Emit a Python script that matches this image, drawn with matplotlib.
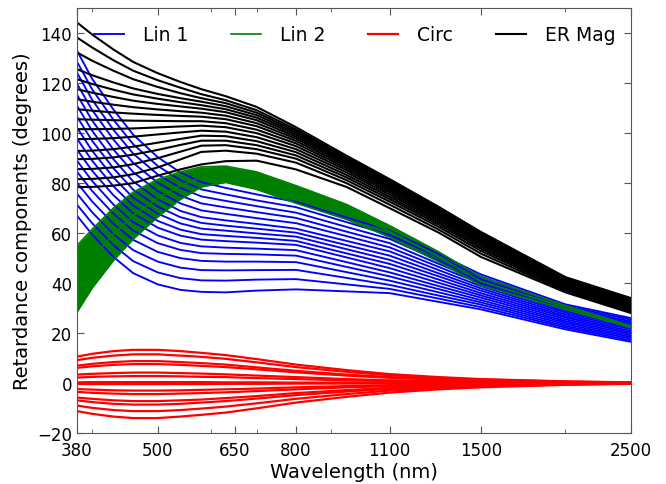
import matplotlib
matplotlib.use('Agg')
import matplotlib.pyplot as plt
from matplotlib.ticker import NullFormatter

WL = [380, 400, 430, 460, 500, 540, 580, 630, 700, 800, 950, 1100, 1300, 1500, 2000, 2500]

# linear retardance component 1 (degrees)
LIN1 = [
    [133.0, 121.8, 109.5, 99.4, 90.4, 84.3, 80.4, 78.1, 75.5, 72.5, 66.3, 61.0, 51.6, 43.5, 31.5, 26.0],
    [128.6, 117.6, 105.4, 95.6, 86.9, 81.2, 77.5, 75.5, 73.1, 70.4, 64.4, 59.3, 50.3, 42.6, 30.8, 25.4],
    [124.2, 113.4, 101.4, 91.8, 83.5, 78.1, 74.7, 72.9, 70.8, 68.2, 62.5, 57.7, 49.0, 41.6, 30.2, 24.7],
    [119.8, 109.3, 97.5, 88.1, 80.2, 75.0, 71.9, 70.3, 68.4, 66.1, 60.6, 56.0, 47.7, 40.7, 29.5, 24.1],
    [115.4, 105.1, 93.5, 84.4, 76.8, 71.9, 69.1, 67.7, 66.0, 64.0, 58.8, 54.3, 46.5, 39.8, 28.8, 23.5],
    [111.0, 101.0, 89.6, 80.7, 73.5, 68.9, 66.4, 65.1, 63.7, 61.8, 56.9, 52.7, 45.2, 38.8, 28.2, 22.8],
    [106.6, 97.0, 86.0, 77.4, 70.6, 66.4, 64.1, 63.0, 61.8, 60.2, 55.2, 51.0, 43.9, 37.9, 27.5, 22.2],
    [102.2, 93.0, 82.3, 74.2, 67.8, 63.9, 61.8, 61.0, 59.9, 58.6, 53.6, 49.3, 42.7, 37.0, 26.8, 21.6],
    [97.8, 89.0, 78.8, 71.0, 64.9, 61.4, 59.6, 58.9, 58.1, 56.9, 51.9, 47.7, 41.4, 36.0, 26.2, 20.9],
    [93.4, 85.0, 75.2, 67.9, 62.2, 59.0, 57.4, 56.8, 56.2, 55.3, 50.3, 46.0, 40.1, 35.1, 25.5, 20.3],
    [89.0, 80.9, 71.5, 64.4, 59.1, 56.1, 54.7, 54.2, 53.8, 53.2, 48.4, 44.3, 38.8, 34.2, 24.8, 19.7],
    [84.6, 76.9, 67.8, 61.0, 56.0, 53.3, 52.0, 51.7, 51.5, 51.0, 46.5, 42.7, 37.6, 33.2, 24.2, 19.0],
    [80.2, 72.7, 63.8, 57.3, 52.5, 50.0, 48.9, 48.6, 48.6, 48.4, 44.4, 41.0, 36.3, 32.3, 23.5, 18.4],
    [75.8, 68.4, 59.6, 53.2, 48.6, 46.2, 45.2, 45.1, 45.2, 45.3, 42.1, 39.3, 35.0, 31.4, 22.8, 17.8],
    [71.4, 64.0, 55.2, 48.8, 44.3, 42.0, 41.1, 41.0, 41.4, 41.6, 39.5, 37.7, 33.8, 30.4, 22.2, 17.1],
    [67.0, 59.5, 50.5, 44.0, 39.5, 37.3, 36.5, 36.3, 37.0, 37.5, 36.7, 36.0, 32.5, 29.5, 21.5, 16.5],
]

# linear retardance component 2 (degrees): lower edge, middle, upper edge of the band
LIN2 = [
    [28.4, 38.0, 49.0, 57.6, 66.5, 73.5, 78.5, 80.3, 77.5, 72.0, 65.5, 58.4, 48.5, 39.0, 29.5, 22.2],
    [41.7, 50.0, 59.5, 67.0, 74.0, 79.0, 82.5, 83.6, 81.0, 75.5, 68.5, 60.7, 50.5, 40.7, 30.3, 22.5],
    [55.0, 61.5, 70.0, 76.4, 81.5, 84.5, 86.5, 86.8, 84.5, 79.0, 71.5, 63.0, 52.5, 42.5, 31.0, 22.8],
]

# circular retardance (degrees)
CIRC = [
    [10.6, 11.7, 12.8, 13.3, 13.3, 12.8, 12.1, 11.2, 9.6, 7.4, 5.2, 3.6, 2.4, 1.6, 0.7, 0.3],
    [9.2, 10.1, 11.0, 11.5, 11.5, 11.0, 10.5, 9.7, 8.3, 6.4, 4.5, 3.1, 2.1, 1.4, 0.6, 0.2],
    [7.0, 7.7, 8.4, 8.8, 8.8, 8.4, 8.0, 7.4, 6.3, 4.9, 3.4, 2.4, 1.6, 1.1, 0.4, 0.2],
    [6.1, 6.7, 7.3, 7.6, 7.6, 7.3, 6.9, 6.4, 5.5, 4.3, 3.0, 2.1, 1.4, 0.9, 0.4, 0.2],
    [3.4, 3.7, 4.0, 4.2, 4.2, 4.0, 3.8, 3.5, 3.0, 2.4, 1.6, 1.1, 0.8, 0.5, 0.2, 0.1],
    [2.2, 2.5, 2.7, 2.8, 2.8, 2.7, 2.5, 2.4, 2.0, 1.6, 1.1, 0.8, 0.5, 0.3, 0.1, 0.1],
    [0.3, 0.4, 0.4, 0.4, 0.4, 0.4, 0.4, 0.3, 0.3, 0.2, 0.2, 0.1, 0.1, 0.0, 0.0, 0.0],
    [-0.3, -0.4, -0.4, -0.4, -0.4, -0.4, -0.4, -0.3, -0.3, -0.2, -0.2, -0.1, -0.1, 0.0, 0.0, 0.0],
    [-2.4, -2.6, -2.9, -3.0, -3.0, -2.9, -2.7, -2.5, -2.2, -1.7, -1.2, -0.8, -0.5, -0.4, -0.2, -0.1],
    [-3.5, -3.9, -4.2, -4.4, -4.4, -4.2, -4.0, -3.7, -3.2, -2.5, -1.7, -1.2, -0.8, -0.5, -0.2, -0.1],
    [-5.8, -6.3, -6.9, -7.2, -7.2, -6.9, -6.6, -6.0, -5.2, -4.0, -2.8, -1.9, -1.3, -0.9, -0.4, -0.1],
    [-6.9, -7.6, -8.3, -8.6, -8.6, -8.3, -7.8, -7.2, -6.2, -4.8, -3.4, -2.3, -1.5, -1.0, -0.4, -0.2],
    [-9.0, -9.9, -10.8, -11.2, -11.2, -10.8, -10.2, -9.4, -8.1, -6.3, -4.4, -3.0, -2.0, -1.3, -0.6, -0.2],
    [-11.2, -12.3, -13.4, -14.0, -14.0, -13.4, -12.7, -11.8, -10.1, -7.8, -5.5, -3.8, -2.5, -1.7, -0.7, -0.3],
]

# magnitude of the elliptical retardance (degrees)
ERMAG = [
    [144.3, 139.5, 133.5, 128.5, 124.0, 120.5, 117.6, 114.8, 110.5, 102.4, 91.0, 81.6, 70.5, 60.5, 42.4, 34.0],
    [138.3, 134.3, 129.2, 125.0, 121.2, 118.2, 115.6, 113.2, 109.2, 101.5, 90.4, 81.1, 70.0, 60.1, 42.1, 33.6],
    [132.3, 129.0, 125.0, 121.6, 118.5, 116.0, 114.0, 112.0, 108.2, 100.8, 89.9, 80.6, 69.6, 59.7, 41.8, 33.2],
    [125.6, 123.2, 120.3, 117.9, 115.7, 114.0, 112.6, 110.8, 107.2, 100.1, 89.4, 80.1, 69.1, 59.3, 41.5, 32.8],
    [121.6, 119.7, 117.4, 115.5, 113.8, 112.4, 111.2, 109.6, 106.2, 99.4, 88.8, 79.6, 68.7, 58.9, 41.2, 32.4],
    [117.6, 116.2, 114.5, 113.0, 111.7, 110.7, 109.8, 108.4, 105.2, 98.6, 88.2, 79.0, 68.2, 58.4, 40.9, 32.0],
    [113.6, 112.6, 111.4, 110.4, 109.5, 108.8, 108.2, 107.0, 104.0, 97.8, 87.5, 78.4, 67.6, 57.9, 40.5, 31.6],
    [109.6, 109.0, 108.3, 107.8, 107.3, 106.9, 106.6, 105.6, 102.8, 96.9, 86.8, 77.7, 67.0, 57.3, 40.1, 31.2],
    [105.6, 105.4, 105.2, 105.0, 104.9, 104.8, 104.8, 104.0, 101.4, 95.9, 86.0, 77.0, 66.4, 56.7, 39.7, 30.8],
    [101.6, 101.6, 101.7, 101.9, 102.3, 102.7, 103.0, 102.4, 100.0, 94.8, 85.2, 76.2, 65.7, 56.1, 39.3, 30.4],
    [97.6, 97.7, 98.0, 98.6, 99.5, 100.3, 101.0, 100.6, 98.4, 93.6, 84.3, 75.4, 65.0, 55.4, 38.8, 30.0],
    [92.9, 93.0, 93.6, 94.6, 96.2, 97.7, 99.0, 98.8, 96.8, 92.4, 83.3, 74.5, 64.2, 54.6, 38.3, 29.6],
    [89.6, 89.7, 90.3, 91.4, 93.3, 95.3, 97.0, 97.0, 95.2, 91.1, 82.3, 73.6, 63.4, 53.8, 37.8, 29.2],
    [85.6, 85.7, 86.3, 87.6, 90.0, 92.6, 95.0, 95.2, 93.6, 89.8, 81.2, 72.6, 62.5, 52.9, 37.3, 28.8],
    [81.6, 81.7, 82.3, 83.6, 86.3, 89.5, 92.5, 93.0, 91.8, 88.2, 80.0, 71.4, 61.4, 51.8, 36.8, 28.4],
    [78.4, 78.5, 79.0, 80.0, 83.0, 85.5, 87.5, 88.8, 89.0, 85.5, 78.5, 70.0, 60.2, 50.5, 36.3, 28.0],
]

XTICKS = [380, 500, 650, 800, 1100, 1500, 2500]
YTICKS = [-20, 0, 20, 40, 60, 80, 100, 120, 140]

fig = plt.figure(figsize=(6.66, 4.85), dpi=100)
ax = fig.add_axes([0.1156, 0.105, 0.832, 0.876])

for i, row in enumerate(LIN1):
    ax.plot(WL, row, color='b', lw=1.35, label='Lin 1' if i == 0 else None)

# the Lin 2 curves lie so close together that they form a solid band
ax.fill_between(WL, LIN2[0], LIN2[-1], color='g', lw=0)
for i, row in enumerate(LIN2):
    ax.plot(WL, row, color='g', lw=1.2, label='Lin 2' if i == 0 else None)

for i, row in enumerate(CIRC):
    ax.plot(WL, row, color='r', lw=1.6, label='Circ' if i == 0 else None)

for i, row in enumerate(ERMAG):
    ax.plot(WL, row, color='k', lw=1.5, label='ER Mag' if i == 0 else None)

ax.set_xscale('log')
ax.set_xlim(380, 2500)
ax.set_ylim(-20, 150)
ax.set_xticks(XTICKS)
ax.set_xticklabels([str(t) for t in XTICKS])
ax.xaxis.set_minor_formatter(NullFormatter())
ax.set_yticks(YTICKS)

ax.tick_params(which='both', direction='in', top=True, right=True,
               labelsize=12, color='#555555')
ax.tick_params(which='major', length=5)
ax.tick_params(which='minor', length=3)
ax.tick_params(axis='x', which='major', pad=6)
for s in ax.spines.values():
    s.set_color('#555555')

ax.set_xlabel('Wavelength (nm)', fontsize=14, labelpad=2)
ax.set_ylabel('Retardance components (degrees)', fontsize=14)

ax.legend(loc='upper left', bbox_to_anchor=(0.0, 1.0), ncol=4,
          frameon=False, fontsize=13.5, handlelength=1.6,
          handletextpad=1.0, columnspacing=2.3)

fig.savefig('out.png', dpi=100)
